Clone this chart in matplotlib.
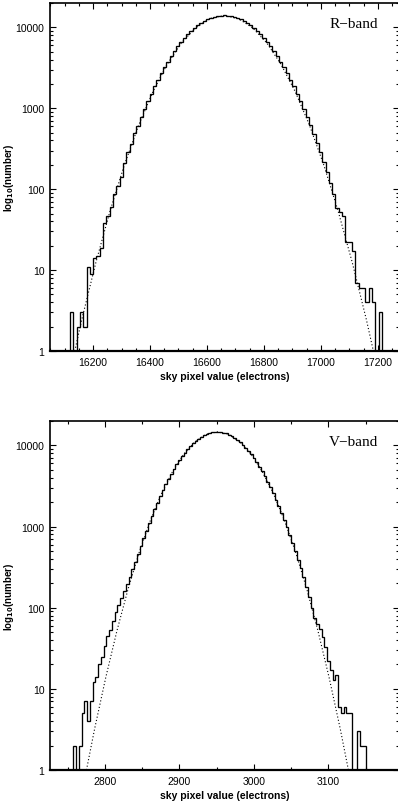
import numpy as np
import matplotlib
matplotlib.use("Agg")
import matplotlib.pyplot as plt
from matplotlib.ticker import MultipleLocator, LogLocator, NullFormatter, FuncFormatter

plt.rcParams['font.family'] = ['Liberation Sans', 'DejaVu Sans']
plt.rcParams['mathtext.default'] = 'bf'

# ---------------- R-band data ----------------
r_bin_start = 16119.0
r_bin_width = 11.65
r_counts = [3, 0, 2, 3, 2, 11, 9, 14, 15, 19,
            38, 47, 60, 87, 110, 140, 210, 290, 365, 490,
            610, 790, 990, 1240, 1510, 1870, 2250, 2710, 3220, 3780,
            4420, 5100, 5840, 6610, 7420, 8240, 9080, 9900, 10690, 11430,
            12110, 12700, 13200, 13590, 13850, 13980, 14050, 13980, 13850, 13590,
            13200, 12700, 12110, 11430, 10690, 9900, 9080, 8240, 7420, 6610,
            5840, 5100, 4420, 3780, 3220, 2710, 2250, 1870, 1510, 1240,
            990, 790, 620, 480, 370, 285, 215, 165, 120, 87,
            59, 52, 47, 22, 22, 17, 7, 6, 6, 4,
            6, 4, 0, 3]
r_fit_x = [16136, 16160, 16210, 16260, 16310, 16360, 16410, 16460, 16510, 16560, 16610,
           16660, 16710, 16760, 16810, 16860, 16910, 16960, 17010, 17060, 17110, 17160, 17184]
r_fit_y = [1.0, 2.4, 12.4, 54.1, 199, 615, 1598, 3490, 6410, 9890, 12830,
           14000, 12830, 9890, 6410, 3490, 1598, 615, 199, 54.1, 12.4, 2.4, 1.0]

# ---------------- V-band data ----------------
v_bin_start = 2757.4
v_bin_width = 3.706
v_counts = [2, 0, 2, 5, 7, 4, 7, 12, 14, 20,
            25, 34, 45, 53, 68, 89, 109, 130, 160, 195,
            240, 300, 365, 460, 580, 715, 890, 1100, 1345, 1640,
            1975, 2370, 2800, 3310, 3860, 4470, 5130, 5840, 6590, 7370,
            8180, 9000, 9820, 10620, 11390, 12120, 12780, 13360, 13850, 14240,
            14510, 14670, 14700, 14600, 14390, 14050, 13610, 13070, 12450, 11750,
            11000, 10210, 9400, 8580, 7760, 6960, 6200, 5470, 4780, 4150,
            3570, 3040, 2570, 2150, 1790, 1480, 1210, 980, 790, 630,
            500, 390, 305, 238, 180, 135, 100, 75, 63, 55,
            44, 33, 22, 17, 13, 15, 6, 5, 6, 5,
            5, 0, 0, 3, 2, 2]
v_fit_x = [2775, 2786, 2801, 2816, 2831, 2846, 2861, 2876, 2891, 2906, 2921, 2936,
           2951, 2966, 2981, 2996, 3011, 3026, 3041, 3056, 3071, 3086, 3101, 3116, 3127]
v_fit_y = [1.0, 3.23, 13.9, 52.2, 171, 485, 1198, 2578, 4823, 7850, 11120, 13710,
           14690, 13710, 11120, 7850, 4823, 2578, 1198, 485, 171, 52.2, 13.9, 3.23, 1.0]

ylabel = "log$_{10}$(number)"
xlabel = "sky pixel value (electrons)"
y_ticks = [1, 10, 100, 1000, 10000]

W, H = 398, 804
fig = plt.figure(figsize=(W / 100, H / 100), dpi=100)
ax1 = fig.add_axes([50 / W, (H - 352) / H, 349 / W, 348 / H])
ax2 = fig.add_axes([50 / W, (H - 771) / H, 349 / W, 349 / H])


def hist_line(ax, start, width, counts):
    counts = np.asarray(counts, dtype=float)
    edges = start + width * np.arange(len(counts) + 1)
    xs = np.repeat(edges, 2)
    ys = np.concatenate([[0.0], np.repeat(counts, 2), [0.0]])
    ax.plot(xs, ys, color='black', lw=0.95, solid_joinstyle='miter')


def style(ax, xlim, major, minor, label):
    ax.set_yscale('log', nonpositive='clip')
    ax.set_ylim(1, 2.0e4)
    ax.set_xlim(*xlim)
    ax.xaxis.set_major_locator(MultipleLocator(major))
    ax.xaxis.set_minor_locator(MultipleLocator(minor))
    ax.yaxis.set_major_locator(LogLocator(base=10))
    ax.yaxis.set_minor_locator(LogLocator(base=10, subs=np.arange(2, 10)))
    ax.yaxis.set_minor_formatter(NullFormatter())
    ax.yaxis.set_major_formatter(FuncFormatter(lambda v, p: '%d' % round(v)))
    ax.set_yticks(y_ticks)
    ax.tick_params(which='both', direction='in', top=True, right=True,
                   labelsize=7.5, width=0.8, colors='black')
    ax.tick_params(which='major', length=4.2, pad=4)
    ax.tick_params(which='minor', length=2.2)
    for s in ax.spines.values():
        s.set_linewidth(1.2)
    ax.spines['bottom'].set_linewidth(1.6)
    ax.set_xlabel(xlabel, fontsize=7.5, fontweight='bold', labelpad=3)
    ax.set_ylabel(ylabel, fontsize=7, fontweight='bold')
    ax.yaxis.set_label_coords(-0.098, 0.5)
    ax.text(0.94, 0.94, label, transform=ax.transAxes, ha='right', va='center',
            fontsize=11, family=['Liberation Serif', 'DejaVu Serif'])


hist_line(ax1, r_bin_start, r_bin_width, r_counts)
ax1.plot(r_fit_x, r_fit_y, color='black', lw=0.8, ls=(0, (1, 2)))
style(ax1, (16049, 17274), 200, 50, "R\u2212band")

hist_line(ax2, v_bin_start, v_bin_width, v_counts)
ax2.plot(v_fit_x, v_fit_y, color='black', lw=0.8, ls=(0, (1, 2)))
style(ax2, (2726, 3195), 100, 50, "V\u2212band")

fig.savefig("out.png", dpi=100)
